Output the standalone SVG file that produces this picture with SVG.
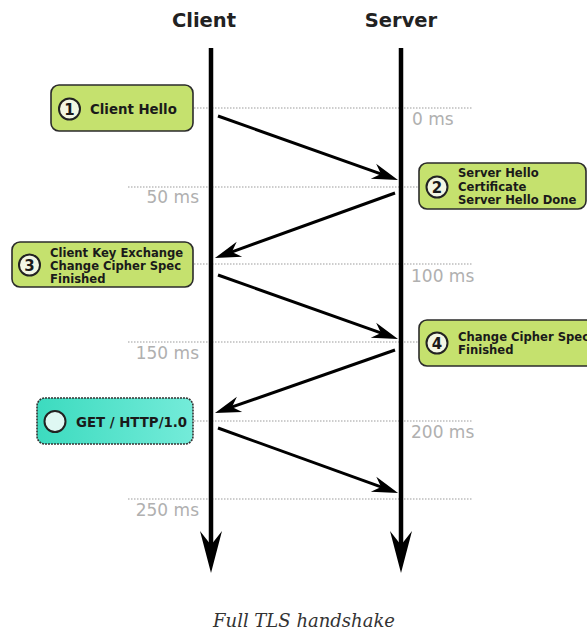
<svg xmlns="http://www.w3.org/2000/svg" width="587" height="632" viewBox="0 0 587 632">
<style>
.title{font-family:"DejaVu Sans","Open Sans",sans-serif;font-weight:bold;font-size:19.5px;fill:#222;text-anchor:middle}
.ms{font-family:"DejaVu Sans","Open Sans",sans-serif;font-size:17px;fill:#b0b0b0}
.grid{stroke:#bdbdbd;stroke-width:1.5;stroke-dasharray:1.5 1.5;fill:none}
.box{fill:#c5e16e;stroke:#2b2b2b;stroke-width:1.6}
.num{fill:#f2f6e4;stroke:#222;stroke-width:2}
.lbl{font-family:"DejaVu Sans Condensed","DejaVu Sans","Open Sans",sans-serif;font-stretch:condensed;font-weight:bold;font-size:12.9px;fill:#1a1a1a}
.big{font-size:14.8px}
.n{font-family:"DejaVu Sans",sans-serif;font-weight:bold;font-size:15px;fill:#1a1a1a;text-anchor:middle}
.life{stroke:#000;stroke-width:4.5;fill:none}
.msg{stroke:#000;stroke-width:3;fill:none;marker-end:url(#ah)}
.cap{font-family:"DejaVu Serif",serif;font-style:italic;font-size:18px;fill:#333;text-anchor:middle}
</style>
<defs>
<marker id="ah" markerUnits="userSpaceOnUse" viewBox="-27 -9 28 18" refX="-16" refY="0" markerWidth="28" markerHeight="18" orient="auto">
<path d="M0,0 L-26,-8 L-18,0 L-26,8 Z" fill="#000"/>
</marker>
<marker id="bh" markerUnits="userSpaceOnUse" viewBox="-43 -12 44 24" refX="-28" refY="0" markerWidth="44" markerHeight="24" orient="auto">
<path d="M0,0 L-42,-11 L-28,0 L-42,11 Z" fill="#000"/>
</marker>
<linearGradient id="teal" x1="0" y1="0" x2="1" y2="0">
<stop offset="0" stop-color="#3cdbbf"/>
<stop offset="1" stop-color="#74ebd9"/>
</linearGradient>
</defs>
<rect width="587" height="632" fill="#fff"/>
<g id="grid">
<line class="grid" x1="128" y1="108" x2="473" y2="108"/>
<line class="grid" x1="128" y1="187" x2="473" y2="187"/>
<line class="grid" x1="128" y1="264" x2="473" y2="264"/>
<line class="grid" x1="128" y1="342" x2="473" y2="342"/>
<line class="grid" x1="128" y1="421" x2="473" y2="421"/>
<line class="grid" x1="128" y1="499" x2="473" y2="499"/>
<text class="ms" x="412" y="125">0 ms</text>
<text class="ms" x="199" y="203" text-anchor="end">50 ms</text>
<text class="ms" x="411" y="282">100 ms</text>
<text class="ms" x="199" y="359" text-anchor="end">150 ms</text>
<text class="ms" x="411" y="438">200 ms</text>
<text class="ms" x="199" y="516" text-anchor="end">250 ms</text>
</g>
<g id="client">
<text class="title" x="204" y="27">Client</text>
<line class="life" x1="211" y1="48" x2="211" y2="545" marker-end="url(#bh)"/>
</g>
<g id="server">
<text class="title" x="401" y="27">Server</text>
<line class="life" x1="401" y1="48" x2="401" y2="545" marker-end="url(#bh)"/>
</g>
<g id="connectors">
<line class="msg" x1="218" y1="116" x2="382.9" y2="174.6"/>
<line class="msg" x1="395" y1="193" x2="230" y2="252.6"/>
<line class="msg" x1="218" y1="275" x2="382.9" y2="333.6"/>
<line class="msg" x1="395" y1="350" x2="230.1" y2="407.7"/>
<line class="msg" x1="218" y1="428" x2="383" y2="487.6"/>
</g>
<g id="step1">
<rect class="box" x="51" y="85" width="142" height="46" rx="8"/>
<circle class="num" cx="69.5" cy="109" r="10.5"/>
<text class="n" x="69.5" y="114.5">1</text>
<text class="lbl big" x="90" y="114">Client Hello</text>
</g>
<g id="step2">
<rect class="box" x="419" y="163" width="167" height="46" rx="8"/>
<circle class="num" cx="437" cy="187" r="10.5"/>
<text class="n" x="437" y="192.5">2</text>
<text class="lbl" x="458" y="177">Server Hello</text>
<text class="lbl" x="458" y="190.5">Certificate</text>
<text class="lbl" x="458" y="204">Server Hello Done</text>
</g>
<g id="step3">
<rect class="box" x="12" y="242" width="181" height="45" rx="8"/>
<circle class="num" cx="29.5" cy="265" r="10.5"/>
<text class="n" x="29.5" y="270.5">3</text>
<text class="lbl" x="50" y="256.5">Client Key Exchange</text>
<text class="lbl" x="50" y="269.5">Change Cipher Spec</text>
<text class="lbl" x="50" y="282.5">Finished</text>
</g>
<g id="step4">
<rect class="box" x="419" y="320" width="180" height="46" rx="8"/>
<circle class="num" cx="437" cy="343" r="10.5"/>
<text class="n" x="437" y="348.5">4</text>
<text class="lbl" x="458" y="340.5">Change Cipher Spec</text>
<text class="lbl" x="458" y="354">Finished</text>
</g>
<g id="get">
<rect x="37" y="398" width="156" height="46" rx="8" fill="url(#teal)" stroke="#333" stroke-width="1.6" stroke-dasharray="2 1"/>
<circle cx="55" cy="421.5" r="10.5" fill="#dff8f3" stroke="#222" stroke-width="2"/>
<text class="lbl big" x="76" y="427">GET / HTTP/1.0</text>
</g>
<text class="cap" x="304" y="627">Full TLS handshake</text>
</svg>
